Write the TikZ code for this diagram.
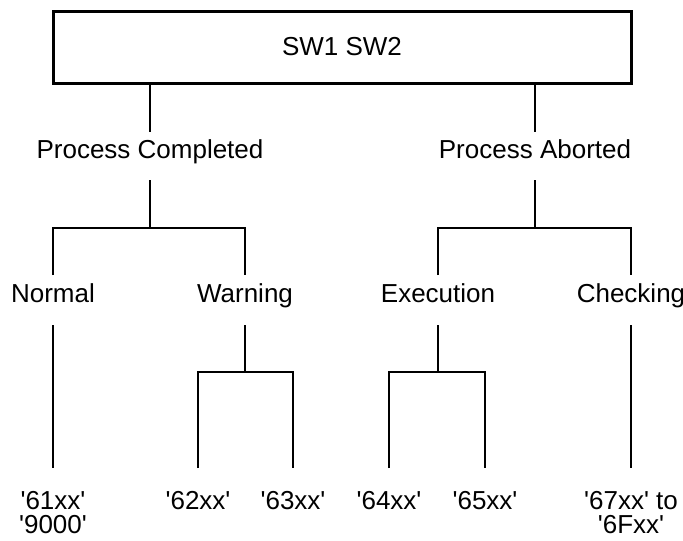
\documentclass[tikz,border=0pt]{standalone}
\usepackage{fontspec}
\newfontfamily\arialf{Liberation Sans}
\begin{document}
\begin{tikzpicture}[x=1pt,y=-1pt,
  every node/.style={font=\arialf\fontsize{26}{24}\selectfont, inner sep=0pt, outer sep=0pt},
  topbox/.style={draw, line width=3pt, minimum width=578pt, minimum height=72pt},
  lab/.style={text height=0.75em, text depth=0.25em, minimum height=48pt},
  leaf/.style={anchor=north, align=center, inner ysep=23pt},
  conn/.style={line width=2.2pt}]
\useasboundingbox[fill=white] (0,0) rectangle (683,541);
\node[topbox] (top) at (342,47) {SW1 SW2};
% level 1
\node[lab] (pc) at (150,156) {Process Completed};
\node[lab] (pa) at (535,156) {Process Aborted};
\draw[conn] (top.south -| pc) -- (pc.north);
\draw[conn] (top.south -| pa) -- (pa.north);
\coordinate (h1) at (150,228);
\coordinate (h2) at (535,228);
\draw[conn] (pc.south) -- (h1);
\draw[conn] (pa.south) -- (h2);
% level 2
\node[lab, minimum height=50pt] (nor) at (53,300) {Normal};
\node[lab, minimum height=50pt] (war) at (245,300) {Warning};
\node[lab, minimum height=50pt] (exe) at (438,300) {Execution};
\node[lab, minimum height=50pt] (chk) at (631,300) {Checking};
\draw[conn] (nor.north) |- (h1) -| (war.north);
\draw[conn] (exe.north) |- (h2) -| (chk.north);
% level 3
\coordinate (h3) at (245,372);
\coordinate (h4) at (438,372);
\draw[conn] (war.south) -- (h3);
\draw[conn] (exe.south) -- (h4);
\node[leaf] (b1) at (53,468) {'61xx'\\'9000'};
\node[leaf] (b2) at (198,468) {'62xx'};
\node[leaf] (b3) at (293,468) {'63xx'};
\node[leaf] (b4) at (389,468) {'64xx'};
\node[leaf] (b5) at (485,468) {'65xx'};
\node[leaf] (b6) at (631,468) {'67xx' to\\'6Fxx'};
\draw[conn] (nor.south) -- (b1.north);
\draw[conn] (b2.north) |- (h3) -| (b3.north);
\draw[conn] (b4.north) |- (h4) -| (b5.north);
\draw[conn] (chk.south) -- (b6.north);
\end{tikzpicture}
\end{document}
